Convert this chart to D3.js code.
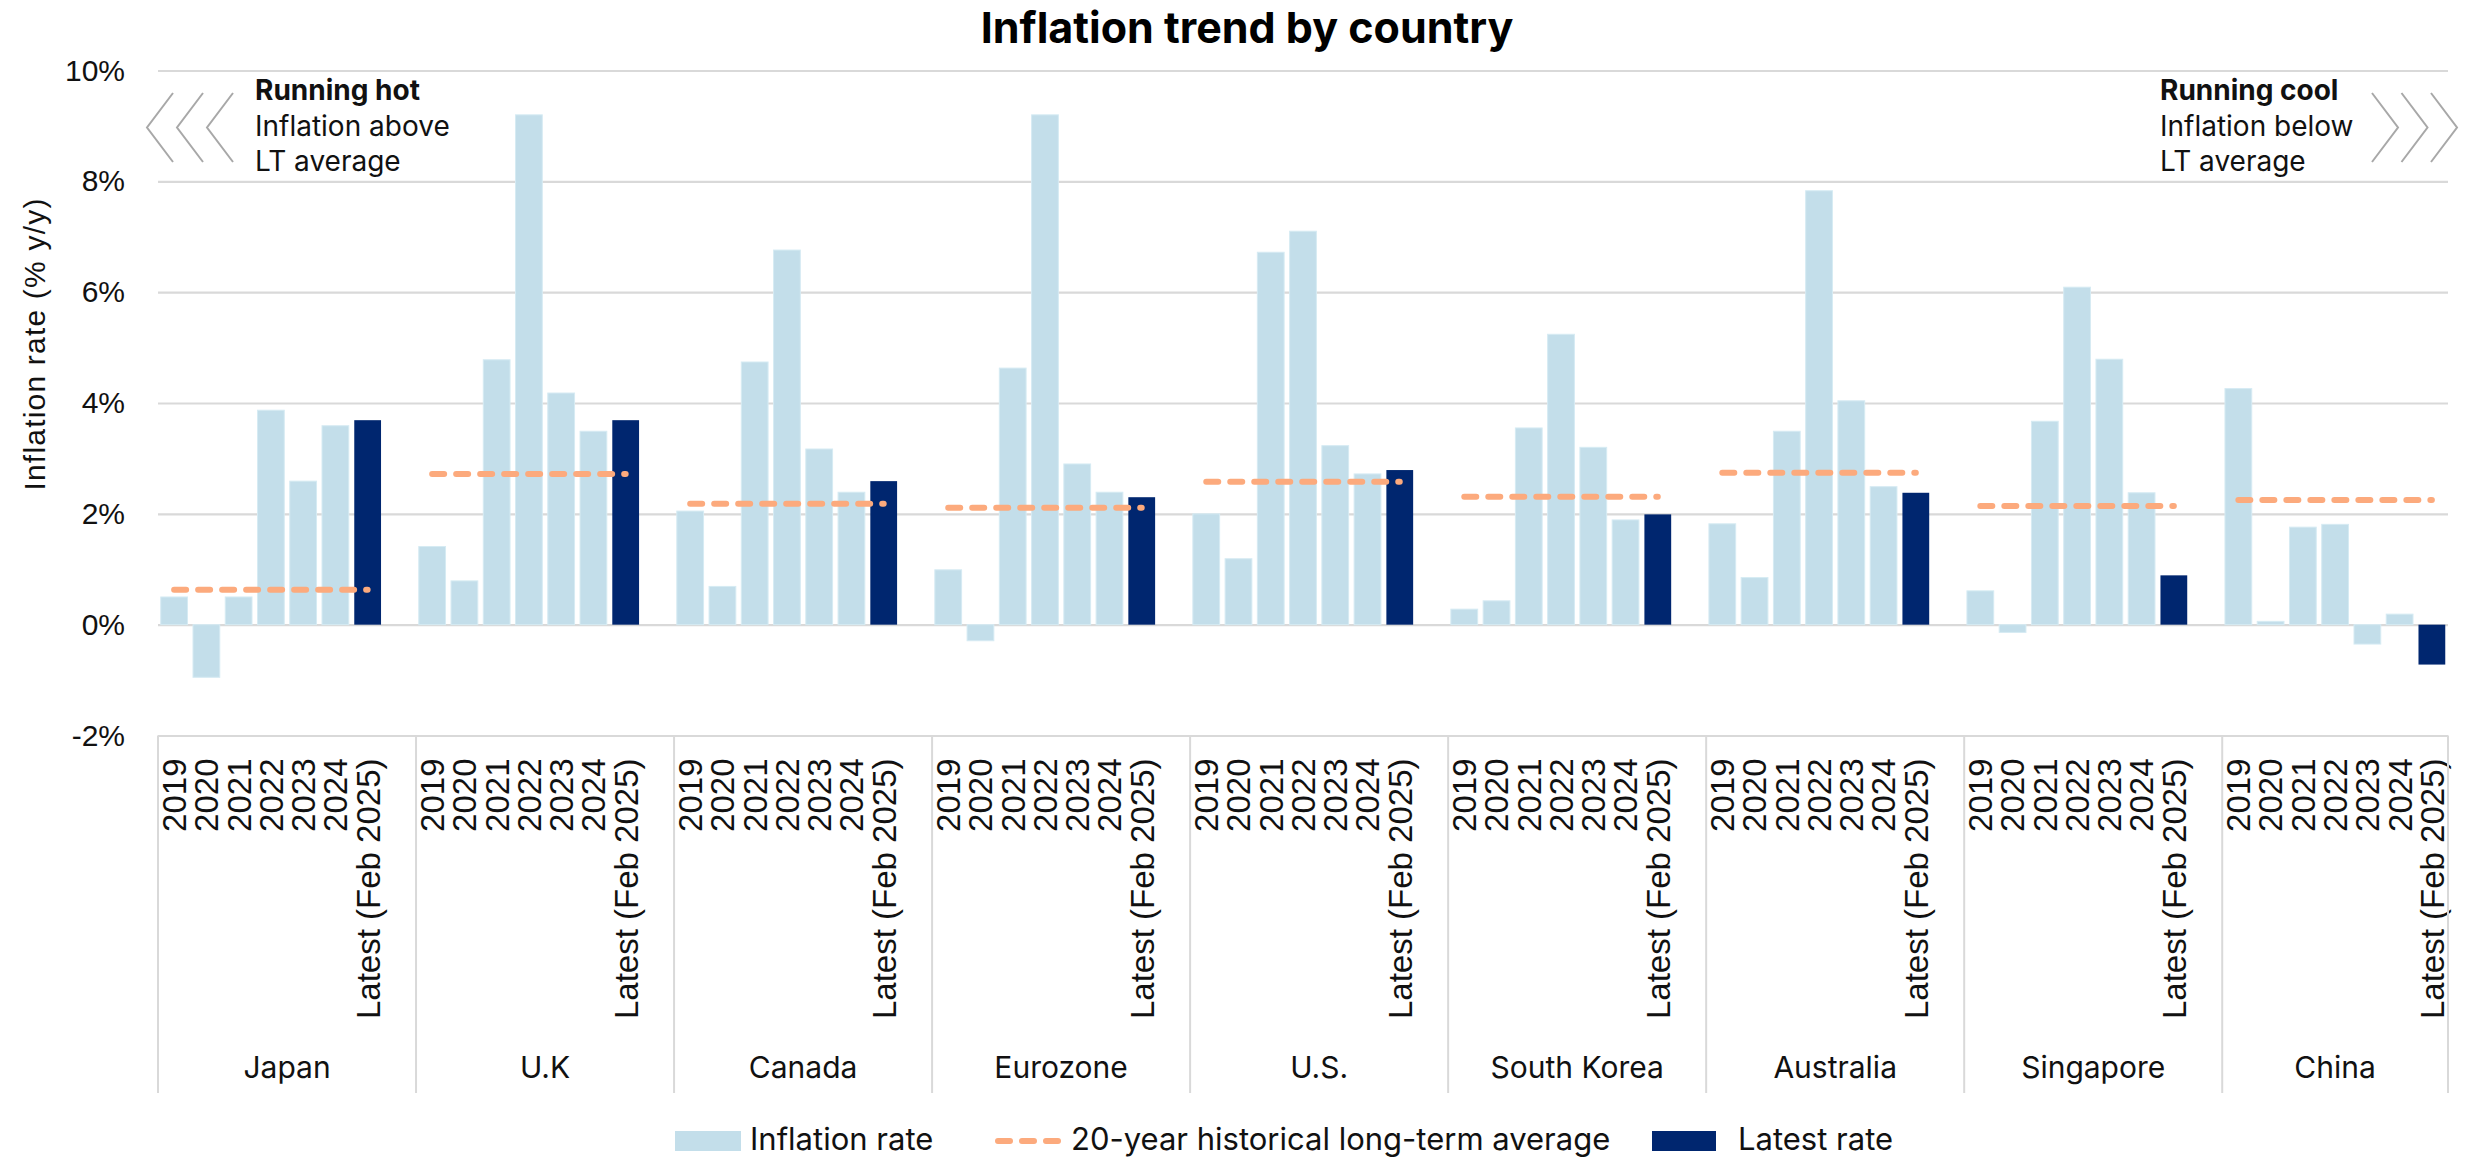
<!DOCTYPE html>
<html>
<head>
<meta charset="utf-8">
<script src="https://cdn.jsdelivr.net/npm/d3@7"></script>
<style>
  html, body { margin: 0; padding: 0; background: #fff; }
  svg { display: block; }
</style>
</head>
<body>
<svg id="chart" width="2468" height="1158"></svg>
<script>
// ---- data -------------------------------------------------------------
const countries = ["Japan", "U.K", "Canada", "Eurozone", "U.S.", "South Korea", "Australia", "Singapore", "China"];
const periods = ["2019", "2020", "2021", "2022", "2023", "2024", "Latest (Feb 2025)"];

// annual inflation (% y/y) per country, last entry = latest reading
const japan     = [0.50, -0.95, 0.50, 3.87, 2.59, 3.59, 3.69];
const uk        = [1.41, 0.79, 4.78, 9.20, 4.18, 3.49, 3.69];
const canada    = [2.05, 0.69, 4.74, 6.76, 3.17, 2.39, 2.59];
const eurozone  = [0.99, -0.29, 4.63, 9.20, 2.90, 2.39, 2.30];
const us        = [2.00, 1.19, 6.72, 7.10, 3.23, 2.72, 2.79];
const southKorea= [0.28, 0.43, 3.55, 5.24, 3.20, 1.89, 1.99];
const australia = [1.82, 0.85, 3.49, 7.83, 4.04, 2.49, 2.38];
const singapore = [0.61, -0.14, 3.67, 6.09, 4.79, 2.38, 0.89];
const china     = [4.26, 0.06, 1.76, 1.81, -0.35, 0.19, -0.72];

// 20-year historical long-term average per country
const ltAverage = [0.63, 2.72, 2.18, 2.11, 2.58, 2.31, 2.74, 2.14, 2.25];

const yTicks = [-2, 0, 2, 4, 6, 8, 10];
const legendLabels = ["Inflation rate", "20-year historical long-term average", "Latest rate"];

const series = [japan, uk, canada, eurozone, us, southKorea, australia, singapore, china];

// ---- style ------------------------------------------------------------
const LIGHT = "#c3deea", NAVY = "#00266f", ORANGE = "#fcaa7d", GRID = "#d9d9d9", CHEV = "#a8a8a8";
const UI_FONT = "Inter, 'Open Sans', sans-serif";
const AXIS_FONT = "'Liberation Sans', Arial, sans-serif";

const svg = d3.select("#chart");
const plotLeft = 158, plotRight = 2448, plotTop = 70.5, plotBottom = 735.5;

// each country gets 7 bars plus one empty spacer slot (the last spacer is dropped)
const keys = [];
countries.forEach((c, i) => {
  const n = i === countries.length - 1 ? 7 : 8;
  for (let j = 0; j < n; j++) keys.push(i + "-" + j);
});

const x = d3.scaleBand().domain(keys).range([plotLeft, plotRight]).paddingInner(0.17).paddingOuter(0.085);
const y = d3.scaleLinear().domain([-2, 10]).range([plotBottom, plotTop]);
const step = x.step(), bw = x.bandwidth(), halfGap = (step - bw) / 2;

// ---- gridlines --------------------------------------------------------
const grid = svg.append("g").attr("transform", `translate(${plotLeft},0)`)
  .call(d3.axisLeft(y).tickValues(yTicks).tickSize(-(plotRight - plotLeft)).tickFormat(""));
grid.select(".domain").remove();
grid.selectAll("line").attr("stroke", GRID).attr("stroke-width", 2.2);

// y tick labels
const yAx = svg.append("g").attr("transform", `translate(${plotLeft},0)`)
  .call(d3.axisLeft(y).tickValues(yTicks).tickSize(0).tickPadding(33).tickFormat(d => d + "%"));
yAx.select(".domain").remove();
yAx.selectAll("text").attr("font-family", AXIS_FONT).attr("font-size", 30).attr("fill", "#111");

// y axis title
svg.append("text")
  .attr("transform", `translate(45,344) rotate(-90)`)
  .attr("text-anchor", "middle")
  .attr("font-family", AXIS_FONT).attr("font-size", 30).attr("letter-spacing", 1.2)
  .attr("fill", "#111")
  .text("Inflation rate (% y/y)");

// ---- bars -------------------------------------------------------------
const barData = [];
series.forEach((vals, i) => vals.forEach((v, j) => barData.push({ key: i + "-" + j, v, latest: j === vals.length - 1 })));

svg.append("g").selectAll("rect").data(barData).join("rect")
  .attr("x", d => x(d.key))
  .attr("width", bw)
  .attr("y", d => y(Math.max(0, d.v)))
  .attr("height", d => Math.abs(y(d.v) - y(0)))
  .attr("fill", d => d.latest ? NAVY : LIGHT)
  .attr("stroke", d => d.latest ? "none" : "#d6ebf3")
  .attr("stroke-width", 1);

// ---- long-term average lines ------------------------------------------
svg.append("g").selectAll("line").data(ltAverage).join("line")
  .attr("x1", (d, i) => x(i + "-0") + bw / 2)
  .attr("x2", (d, i) => x(i + "-6") + bw / 2)
  .attr("y1", d => y(d)).attr("y2", d => y(d))
  .attr("stroke", ORANGE).attr("stroke-width", 6)
  .attr("stroke-dasharray", "12 12").attr("stroke-linecap", "round");

// ---- category axis ----------------------------------------------------
const xAx = svg.append("g").attr("transform", `translate(0,${plotBottom})`)
  .call(d3.axisBottom(x).tickSize(0).tickFormat(k => {
    const j = +k.split("-")[1];
    return j < periods.length ? periods[j] : "";
  }));
xAx.select(".domain").remove();
xAx.selectAll("text")
  .attr("transform", "rotate(-90)")
  .attr("x", -23).attr("y", 0).attr("dy", "0.36em")
  .attr("text-anchor", "end")
  .attr("font-family", AXIS_FONT).attr("font-size", 33).attr("fill", "#111");

// group boundaries and country names
const groupBounds = countries.map((c, i) => {
  const last = i === countries.length - 1 ? 6 : 7;
  return [x(i + "-0") - halfGap, x(i + "-" + last) + bw + halfGap];
});
const sepX = groupBounds.map(g => g[0]).concat([groupBounds[groupBounds.length - 1][1]]);
svg.append("g").selectAll("line").data(sepX).join("line")
  .attr("x1", d => d).attr("x2", d => d)
  .attr("y1", plotBottom).attr("y2", 1093)
  .attr("stroke", GRID).attr("stroke-width", 2);

svg.append("g").selectAll("text").data(countries).join("text")
  .attr("x", (d, i) => (groupBounds[i][0] + groupBounds[i][1]) / 2)
  .attr("y", 1078)
  .attr("text-anchor", "middle")
  .attr("font-family", UI_FONT).attr("font-size", 30).attr("fill", "#111")
  .text(d => d);

// ---- title ------------------------------------------------------------
svg.append("text")
  .attr("x", 1247).attr("y", 43)
  .attr("text-anchor", "middle")
  .attr("font-family", UI_FONT).attr("font-weight", 700).attr("font-size", 43)
  .attr("fill", "#000")
  .text("Inflation trend by country");

// ---- side annotations -------------------------------------------------
function note(xPos, lines) {
  const t = svg.append("text").attr("font-family", UI_FONT).attr("font-size", 28).attr("fill", "#111");
  lines.forEach((s, i) => {
    t.append("tspan").attr("x", xPos).attr("y", 100 + i * 35.5)
      .attr("font-weight", i === 0 ? 700 : 400).text(s);
  });
}
note(255, ["Running hot", "Inflation above", "LT average"]);
note(2160, ["Running cool", "Inflation below", "LT average"]);

const chevron = d3.line();
[0, 1, 2].forEach(k => {
  svg.append("path")
    .attr("d", chevron([[173 + k * 30, 93], [147 + k * 30, 127.5], [173 + k * 30, 162]]))
    .attr("fill", "none").attr("stroke", CHEV).attr("stroke-width", 2);
  svg.append("path")
    .attr("d", chevron([[2372 + k * 29.5, 93], [2398 + k * 29.5, 127.5], [2372 + k * 29.5, 162]]))
    .attr("fill", "none").attr("stroke", CHEV).attr("stroke-width", 2);
});

// ---- legend -----------------------------------------------------------
const lg = svg.append("g").attr("font-family", UI_FONT).attr("font-size", 31).attr("fill", "#111");
lg.append("rect").attr("x", 675).attr("y", 1131).attr("width", 66).attr("height", 20).attr("fill", LIGHT);
lg.append("text").attr("x", 750).attr("y", 1150).text(legendLabels[0]);
lg.append("line").attr("x1", 998).attr("x2", 1058).attr("y1", 1141).attr("y2", 1141)
  .attr("stroke", ORANGE).attr("stroke-width", 6).attr("stroke-dasharray", "12 12").attr("stroke-linecap", "round");
lg.append("text").attr("x", 1071).attr("y", 1150).text(legendLabels[1]);
lg.append("rect").attr("x", 1652).attr("y", 1131).attr("width", 64).attr("height", 20).attr("fill", NAVY);
lg.append("text").attr("x", 1738).attr("y", 1150).text(legendLabels[2]);
</script>
</body>
</html>
